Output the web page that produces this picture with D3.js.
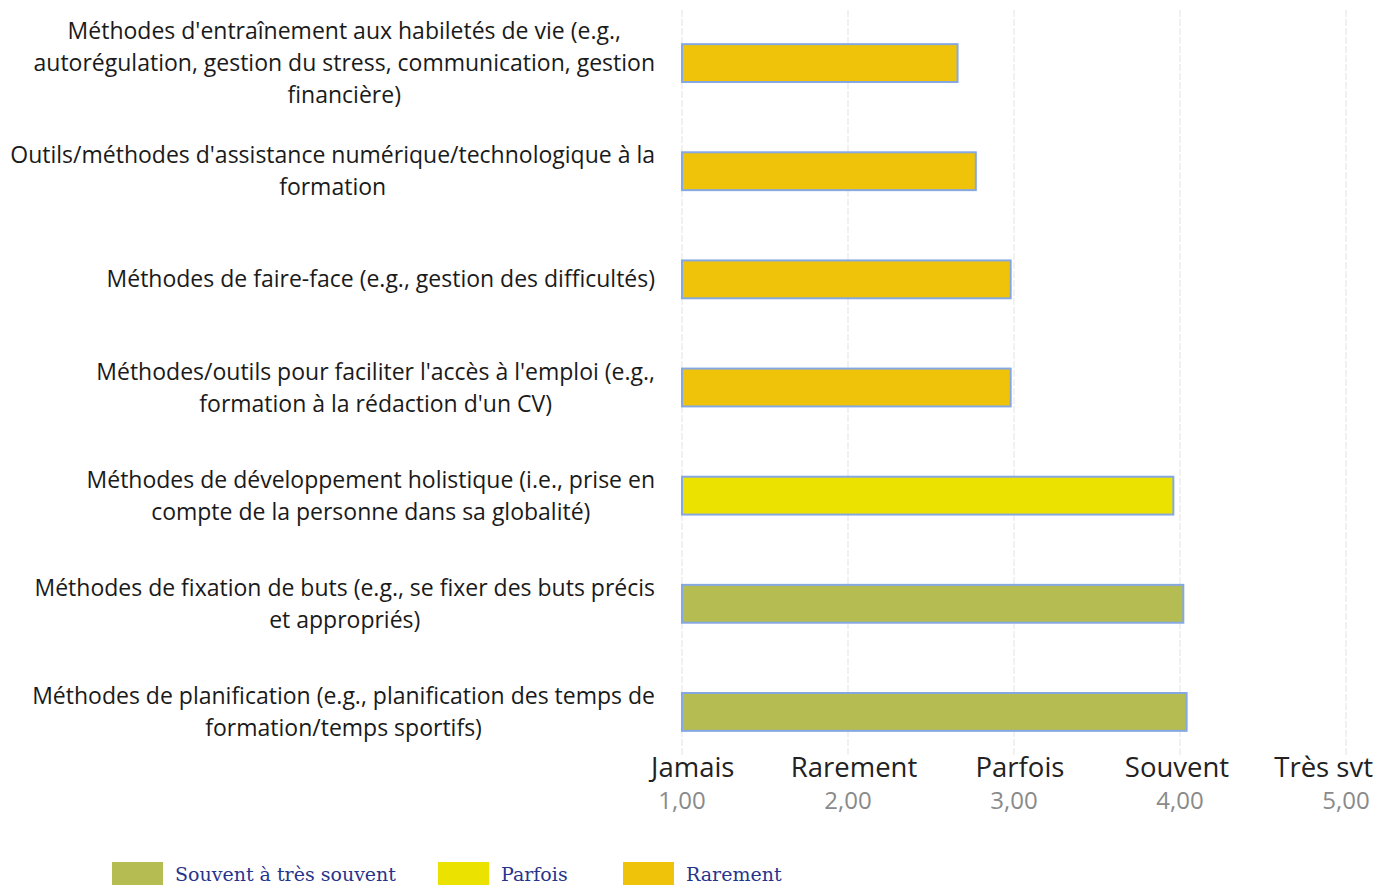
<!DOCTYPE html>
<html lang="fr">
<head>
<meta charset="UTF-8">
<title>Méthodes utilisées</title>
<style>
  body { margin: 0; background: #fff; }
  svg { display: block; }
  text { font-variant-ligatures: none; }
</style>
<script src="https://d3js.org/d3.v7.min.js"></script>
</head>
<body>
<script>
// libellés des méthodes (une ligne par entrée)
const categories = [
  ["Méthodes d'entraînement aux habiletés de vie (e.g.,", "autorégulation, gestion du stress, communication, gestion", "financière)"],
  ["Outils/méthodes d'assistance numérique/technologique à la", "formation"],
  ["Méthodes de faire-face (e.g., gestion des difficultés)"],
  ["Méthodes/outils pour faciliter l'accès à l'emploi (e.g.,", "formation à la rédaction d'un CV)"],
  ["Méthodes de développement holistique (i.e., prise en", "compte  de la personne dans sa globalité)"],
  ["Méthodes de fixation de buts (e.g., se fixer des buts précis", "et appropriés)"],
  ["Méthodes de planification (e.g., planification des temps de", "formation/temps sportifs)"]
];
const values = [2.66, 2.77, 2.98, 2.98, 3.96, 4.02, 4.04];
const groups = ["Rarement", "Rarement", "Rarement", "Rarement", "Parfois", "Souvent à très souvent", "Souvent à très souvent"];

const tickValues = [1, 2, 3, 4, 5];
const tickWords = ["Jamais", "Rarement", "Parfois", "Souvent", "Très svt"];

const legendKeys = ["Souvent à très souvent", "Parfois", "Rarement"];
const legendColors = ["#b5bd52", "#ece200", "#efc30a"];

const width = 1391, height = 887;
const font = "'Open Sans', Lato, sans-serif";
const svg = d3.select("body").append("svg")
  .attr("width", width).attr("height", height);

const x = d3.scaleLinear().domain([1, 5]).range([682, 1346]);
const y = d3.scaleBand().domain(d3.range(categories.length))
  .range([9, 766]).paddingInner(0.65).paddingOuter(0.325);
const color = d3.scaleOrdinal().domain(legendKeys).range(legendColors);

// grille verticale
svg.append("g").selectAll("line")
  .data(tickValues).join("line")
  .attr("x1", d => x(d)).attr("x2", d => x(d))
  .attr("y1", 10).attr("y2", 755)
  .attr("stroke", "#e8e8e8").attr("stroke-width", 1.2)
  .attr("stroke-dasharray", "7,2");

// barres
svg.append("g").selectAll("rect")
  .data(values).join("rect")
  .attr("x", x(1))
  .attr("y", (d, i) => y(i))
  .attr("width", d => x(d) - x(1))
  .attr("height", y.bandwidth())
  .attr("fill", (d, i) => color(groups[i]))
  .attr("stroke", "#86a8e2").attr("stroke-width", 2);

// libellés de gauche : bloc aligné à droite, lignes centrées
const labelRight = 655, lineH = 32;
categories.forEach((lines, i) => {
  const g = svg.append("g");
  const cy = y(i) + y.bandwidth() / 2;
  const texts = g.selectAll("text").data(lines).join("text")
    .attr("y", (d, k) => cy + (k - (lines.length - 1) / 2) * lineH)
    .attr("dy", "0.35em")
    .attr("text-anchor", "middle")
    .attr("font-family", font)
    .attr("font-size", 23)
    .attr("fill", "#1a1a1a")
    .text(d => d);
  let maxW = 0;
  texts.each(function() { maxW = Math.max(maxW, this.getComputedTextLength()); });
  texts.attr("x", labelRight - maxW / 2);
});

// axe x : mots et valeurs
const last = tickValues.length - 1;
const axis = svg.append("g");
axis.selectAll("text.word").data(tickValues).join("text")
  .attr("class", "word")
  .attr("x", (d, i) => i === 0 ? x(d) - 31 : i === last ? x(d) + 27 : x(d) + (i === 3 ? -3 : 6))
  .attr("y", 777)
  .attr("text-anchor", (d, i) => i === 0 ? "start" : i === last ? "end" : "middle")
  .attr("font-family", font)
  .attr("font-size", 27.5)
  .attr("fill", "#222")
  .text((d, i) => tickWords[i]);
axis.selectAll("text.num").data(tickValues).join("text")
  .attr("class", "num")
  .attr("x", d => x(d))
  .attr("y", 809)
  .attr("text-anchor", "middle")
  .attr("font-family", font)
  .attr("font-size", 24)
  .attr("fill", "#8a8a8a")
  .text(d => d3.format(".2f")(d).replace(".", ","));

// légende
const legendX = [112, 438, 623];
const legend = svg.append("g").selectAll("g")
  .data(legendKeys).join("g")
  .attr("transform", (d, i) => `translate(${legendX[i]},862)`);
legend.append("rect")
  .attr("width", 51).attr("height", 23)
  .attr("fill", d => color(d));
legend.append("text")
  .attr("x", 63).attr("y", 19)
  .attr("font-family", "'DejaVu Serif', 'Liberation Serif', serif")
  .attr("font-size", 19)
  .attr("fill", "#27348b")
  .text(d => d);
</script>
</body>
</html>
